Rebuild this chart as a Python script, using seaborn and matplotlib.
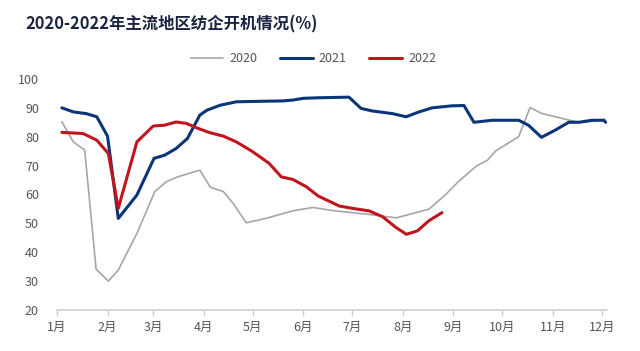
import matplotlib
matplotlib.use("Agg")
import matplotlib.pyplot as plt
import seaborn as sns
import pandas as pd

# x = day of year (1月1日 = 0)
days_2020 = [3, 10, 17, 24, 31.5, 37.6, 49, 60, 67, 74, 81, 87.6, 94, 102, 108, 116,
             128, 145, 157, 169, 181, 191, 208, 228, 238, 246, 257, 264, 269, 283,
             290, 297, 312, 320, 330, 336]
vals_2020 = [85.2, 78.2, 75.4, 34.1, 30.0, 33.8, 46.5, 61.0, 64.4, 66.1, 67.3, 68.4,
             62.5, 61.0, 56.9, 50.2, 51.7, 54.4, 55.5, 54.4, 53.7, 53.1, 51.9, 54.9,
             59.8, 64.4, 69.8, 71.9, 75.1, 80.0, 90.1, 88.1, 86.0, 85.0, 85.4, 86.1]

days_2021 = [3, 10, 18, 24.4, 31, 37.6, 49, 59.5, 66, 73, 80, 87.6, 92, 100, 110, 128,
             138.5, 144.6, 151, 161, 179, 186.4, 193.5, 205.7, 214, 222, 230, 242,
             249.5, 255.6, 267, 283, 289, 297, 305.5, 313.7, 320, 328, 335, 336.4]
vals_2021 = [90.0, 88.6, 88.0, 86.9, 80.2, 51.7, 59.8, 72.5, 73.6, 75.9, 79.4, 87.5,
             89.2, 90.9, 92.1, 92.3, 92.4, 92.7, 93.3, 93.5, 93.7, 89.8, 88.9, 88.0,
             86.9, 88.6, 90.0, 90.7, 90.8, 85.0, 85.7, 85.7, 84.0, 79.8, 82.3, 85.0,
             85.0, 85.7, 85.7, 85.0]

days_2022 = [3, 16, 24.4, 31.5, 37.6, 49, 59, 66, 73, 79.4, 85.5, 93.7, 102, 110, 120,
             130, 137.5, 144.6, 152.8, 160, 173, 181, 191.4, 199.6, 207.7, 214.2,
             221, 228, 236]
vals_2022 = [81.5, 81.1, 78.8, 74.2, 55.2, 78.2, 83.7, 84.0, 85.1, 84.6, 83.1, 81.4,
             80.2, 78.2, 74.8, 70.8, 66.1, 65.2, 62.7, 59.5, 56.0, 55.2, 54.3, 52.3,
             48.6, 46.2, 47.4, 50.9, 53.7]

month_starts = [0, 31, 59, 90, 120, 151, 181, 212, 243, 273, 304, 334]
month_labels = [f"{i}月" for i in range(1, 13)]

series = {
    "2020": (days_2020, vals_2020, "#a6a6a6", 1.2),
    "2021": (days_2021, vals_2021, "#0b3577", 2.2),
    "2022": (days_2022, vals_2022, "#c0141e", 2.2),
}

sns.set_theme(style="white")
plt.rcParams["font.family"] = ["Noto Sans CJK SC", "DejaVu Sans"]

fig = plt.figure(figsize=(6.4, 3.51), dpi=100)
ax = fig.add_axes([0.089, 0.117, 0.859, 0.658])

for name, (xs, ys, col, lw) in series.items():
    df = pd.DataFrame({"day": xs, "value": ys})
    sns.lineplot(data=df, x="day", y="value", ax=ax, color=col, linewidth=lw,
                 label=name, sort=False)

ax.set_xlim(0, 337)
ax.set_ylim(20, 100)
ax.set_yticks(range(20, 101, 10))
ax.set_xticks(month_starts)
ax.set_xticklabels(month_labels)
ax.set_xlabel("")
ax.set_ylabel("")

for s in ["top", "right", "left"]:
    ax.spines[s].set_visible(False)
ax.spines["bottom"].set_color("#d0d0d0")
ax.spines["bottom"].set_linewidth(1.2)
ax.tick_params(axis="x", bottom=True, length=4, width=1, color="#d0d0d0",
               labelsize=9, labelcolor="#555555", pad=4)
ax.tick_params(axis="y", left=False, labelsize=9, labelcolor="#555555", pad=7)

ax.get_legend().remove()
handles, labels = ax.get_legend_handles_labels()
fig.legend(handles, labels, loc="center", bbox_to_anchor=(0.49, 0.832), ncol=3,
           frameon=False, fontsize=9, labelcolor="#555555", handlelength=2.6,
           columnspacing=1.8, handletextpad=0.5)

fig.text(0.039, 0.931, "2020-2022年主流地区纺企开机情况(%)", fontsize=11.8,
         color="#1a2340", fontweight="bold", ha="left", va="center")

fig.savefig("out.png", dpi=100, facecolor="white")
